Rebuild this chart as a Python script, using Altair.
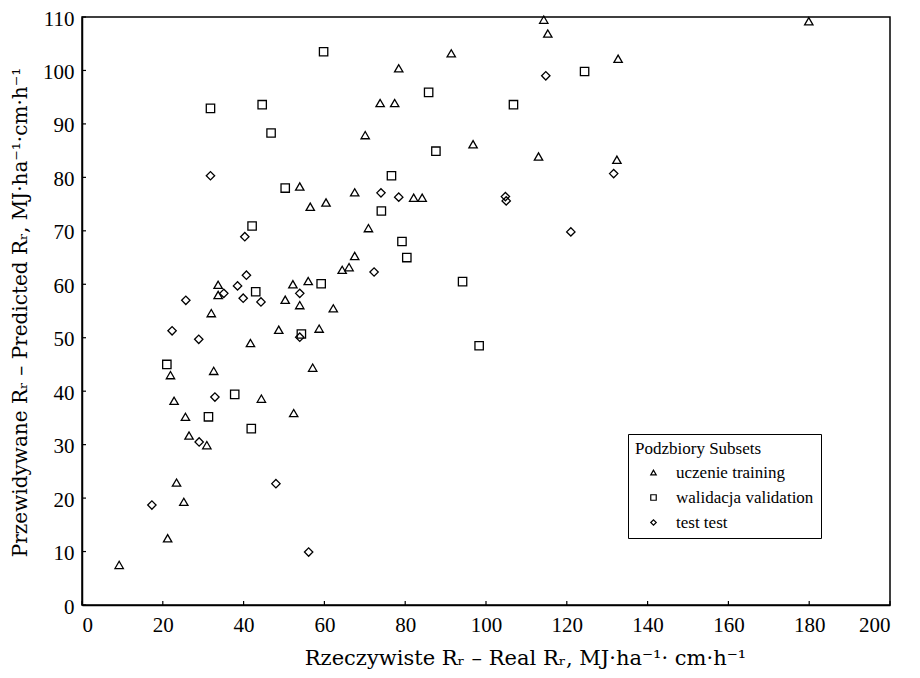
import altair as alt
import pandas as pd

# ---- data ----
subset_names = ["uczenie training", "walidacja validation", "test test"]

train_x = [9.2, 21.2, 25.2, 23.4, 30.9, 26.5, 25.6, 22.8, 44.4, 21.9, 32.6, 41.7, 48.7, 32.0,
           33.7, 33.7, 52.2, 56.0, 50.3, 53.9, 62.2, 58.7, 57.1, 52.4, 64.4, 66.1, 67.5, 70.9,
           56.5, 60.4, 53.9, 67.5, 70.1, 73.8, 77.4, 78.4, 82.1, 84.2, 91.4, 96.8, 113.0, 114.3,
           115.3, 132.7, 132.4, 179.9]
train_y = [7.5, 12.5, 19.3, 22.9, 29.9, 31.7, 35.2, 38.2, 38.6, 43.0, 43.8, 49.0, 51.5, 54.6,
           59.9, 58.0, 60.0, 60.6, 57.1, 56.1, 55.5, 51.7, 44.4, 35.9, 62.7, 63.2, 65.3, 70.5,
           74.5, 75.3, 78.3, 77.2, 87.9, 93.9, 93.9, 100.4, 76.2, 76.2, 103.2, 86.2, 83.9, 109.5,
           106.9, 102.2, 83.3, 109.2]

val_x = [21.0, 31.3, 37.8, 41.9, 43.0, 42.1, 50.3, 54.3, 59.2, 31.8, 44.6, 46.8, 59.8, 74.1,
         76.6, 79.2, 80.4, 85.8, 87.6, 94.2, 98.3, 106.8, 124.4]
val_y = [45.0, 35.2, 39.4, 33.0, 58.6, 70.9, 78.0, 50.7, 60.1, 92.9, 93.6, 88.3, 103.5, 73.7,
         80.3, 68.0, 65.0, 95.9, 84.9, 60.5, 48.5, 93.6, 99.8]

test_x = [17.3, 48.0, 56.1, 29.0, 32.9, 22.3, 28.9, 53.9, 25.7, 35.1, 38.5, 39.9, 40.7, 44.3,
          53.9, 40.3, 31.8, 72.3, 74.0, 78.4, 104.8, 105.0, 121.0, 131.6, 114.8]
test_y = [18.7, 22.7, 9.9, 30.5, 38.9, 51.3, 49.7, 50.1, 57.0, 58.3, 59.7, 57.4, 61.7, 56.7,
          58.3, 68.9, 80.3, 62.3, 77.1, 76.3, 76.4, 75.6, 69.8, 80.7, 99.0]

x_ticks = [0, 20, 40, 60, 80, 100, 120, 140, 160, 180, 200]
y_ticks = [0, 10, 20, 30, 40, 50, 60, 70, 80, 90, 100, 110]

rows = []
for name, xs, ys in zip(subset_names, [train_x, val_x, test_x], [train_y, val_y, test_y]):
    rows += [{"x": a, "y": b, "subset": name} for a, b in zip(xs, ys)]
df = pd.DataFrame(rows)

W, H = 808, 588
FONT = "Liberation Serif"
TFONT = "DejaVu Serif"

xscale = alt.Scale(domain=[0, 200], nice=False, zero=False)
yscale = alt.Scale(domain=[0, 110], nice=False, zero=False)

points = alt.Chart(df).mark_point(
    filled=False, color="black", strokeWidth=1.3, size=70, opacity=1
).encode(
    x=alt.X("x:Q", scale=xscale,
            axis=alt.Axis(values=x_ticks, title="Rzeczywiste Rᵣ – Real Rᵣ, MJ·ha⁻¹· cm·h⁻¹",
                          titleX=443, titleY=53, titleAlign="center", titleBaseline="middle",
                          titleFontSize=21, labelPadding=9)),
    y=alt.Y("y:Q", scale=yscale,
            axis=alt.Axis(values=y_ticks, title="Przewidywane Rᵣ – Predicted Rᵣ, MJ·ha⁻¹·cm·h⁻¹",
                          titleX=-62, titleY=295, titleAngle=-90, titleAlign="center",
                          titleBaseline="middle", titleFontSize=20, labelPadding=8,
                          labelOffset=2)),
    shape=alt.Shape("subset:N",
                    scale=alt.Scale(domain=subset_names, range=["triangle-up", "square", "diamond"]),
                    legend=alt.Legend(title="Podzbiory Subsets", orient="none",
                                      legendX=546, legendY=417, strokeColor="black",
                                      padding=7, titleFont=FONT, titleFontSize=17,
                                      titleFontWeight="normal", titleColor="black",
                                      titlePadding=6, labelFont=FONT, labelFontSize=17,
                                      labelColor="black", symbolSize=30, symbolStrokeWidth=1.2,
                                      symbolStrokeColor="black", symbolOffset=10,
                                      labelOffset=14, rowPadding=7)),
)

xt = alt.Chart(pd.DataFrame({"x": x_ticks})).mark_rule(color="black", strokeWidth=1.2).encode(
    x=alt.X("x:Q", scale=xscale), y=alt.value(H), y2=alt.value(H - 4)
)
yt = alt.Chart(pd.DataFrame({"y": y_ticks})).mark_rule(color="black", strokeWidth=1.2).encode(
    y=alt.Y("y:Q", scale=yscale), x=alt.value(0), x2=alt.value(4)
)

chart = alt.layer(points, xt, yt).properties(
    width=W, height=H,
    autosize=alt.AutoSizeParams(type="none"),
    padding={"left": 74, "top": 9, "right": 20, "bottom": 65},
).configure_view(
    stroke="black", strokeWidth=1.5
).configure_axis(
    domainColor="black", domainWidth=1.5, tickSize=0, grid=False,
    labelFont=FONT, labelFontSize=21, labelColor="black",
    titleFont=TFONT, titleFontSize=20, titleFontWeight="normal", titleColor="black",
)

chart.save("out.html", embed_options={"renderer": "svg", "actions": False})
